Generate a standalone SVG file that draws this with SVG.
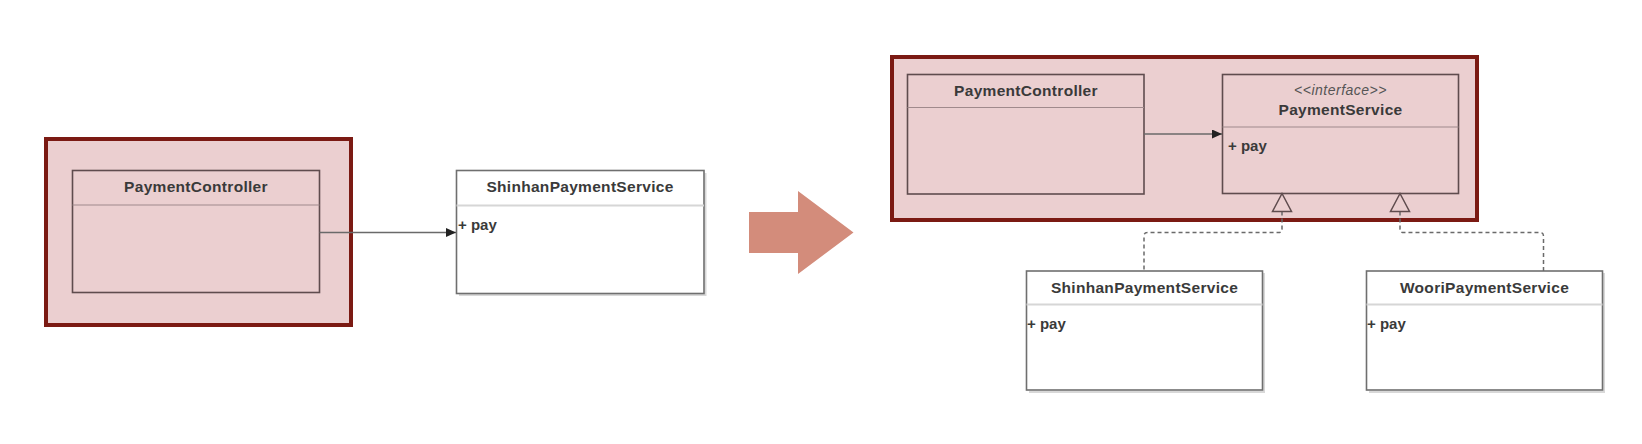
<svg xmlns="http://www.w3.org/2000/svg" width="1642" height="444" viewBox="0 0 1642 444">
<defs>
<style>
.frame{fill:#ebcfd0;stroke:#7b1a13;stroke-width:4}
.pbox{fill:none;stroke:#5f4c4e;stroke-width:1.6}
.pdiv{stroke:#a08a8c;stroke-width:1.2}
.wbox{fill:#fff;stroke:#6f6f6f;stroke-width:1.6}
.wdiv{stroke:#d6d6d6;stroke-width:2}
.shadow{fill:none;stroke:#d8d8d8;stroke-width:2}
.t{font-family:"Liberation Sans",Arial,sans-serif;font-size:15.5px;letter-spacing:0.3px;font-weight:bold;fill:#3a3a3a;text-anchor:middle}
.m{font-family:"Liberation Sans",Arial,sans-serif;font-size:15px;font-weight:bold;fill:#3a3a3a}
.st{font-family:"Liberation Sans",Arial,sans-serif;font-size:14px;letter-spacing:0.5px;font-style:italic;fill:#555;text-anchor:middle}
.conn{fill:none;stroke:#6a6a6a;stroke-width:1.5}
.dash{fill:none;stroke:#6a6a6a;stroke-width:1.5;stroke-dasharray:4 3}
.tri{fill:#ebcfd0;stroke:#5f4c4e;stroke-width:1.5}
</style>
<marker id="ah" markerWidth="10" markerHeight="9" refX="10" refY="4.5" orient="auto" markerUnits="userSpaceOnUse">
<path d="M0,0 L10,4.5 L0,9 Z" fill="#222"/>
</marker>
</defs>
<rect width="1642" height="444" fill="#fff"/>

<!-- Left diagram -->
<g id="left-frame"><rect class="frame" x="46" y="139" width="305" height="186"/></g>
<g id="left-PaymentController">
<rect class="pbox" x="72.5" y="170.5" width="247" height="122"/>
<line class="pdiv" x1="72.5" y1="205" x2="319.5" y2="205"/>
<text class="t" x="196" y="191.5">PaymentController</text>
</g>
<g id="left-ShinhanPaymentService">
<path class="shadow" d="M705.5,173 V295 H459"/>
<rect class="wbox" x="456.5" y="170.5" width="247.5" height="123"/>
<line class="wdiv" x1="456.5" y1="205.5" x2="704" y2="205.5"/>
<text class="t" x="580" y="192">ShinhanPaymentService</text>
<text class="m" x="458" y="230">+ pay</text>
</g>

<!-- Transition arrow -->
<g id="transition-arrow"><polygon points="749,212 798,212 798,191 853.5,232.5 798,274 798,253 749,253" fill="#d38c7b"/></g>

<!-- Right diagram -->
<g id="right-frame"><rect class="frame" x="892" y="57" width="585" height="163"/></g>
<g id="right-PaymentController">
<rect class="pbox" x="907.5" y="74.5" width="236.5" height="119.5"/>
<line class="pdiv" x1="907.5" y1="107.5" x2="1144" y2="107.5"/>
<text class="t" x="1026" y="96">PaymentController</text>
</g>
<g id="right-PaymentService">
<rect class="pbox" x="1222.5" y="74.5" width="236" height="119"/>
<line class="pdiv" x1="1222.5" y1="127" x2="1458.5" y2="127"/>
<text class="st" x="1340.5" y="94.5">&lt;&lt;interface&gt;&gt;</text>
<text class="t" x="1340.5" y="114.5">PaymentService</text>
<text class="m" x="1228" y="151">+ pay</text>
</g>
<g id="right-ShinhanPaymentService">
<path class="shadow" d="M1264,273 V392 H1029"/>
<rect class="wbox" x="1026.5" y="271" width="236" height="119"/>
<line class="wdiv" x1="1026.5" y1="304.5" x2="1262.5" y2="304.5"/>
<text class="t" x="1144.5" y="292.5">ShinhanPaymentService</text>
<text class="m" x="1027" y="328.5">+ pay</text>
</g>
<g id="right-WooriPaymentService">
<path class="shadow" d="M1604,273 V392 H1369"/>
<rect class="wbox" x="1366.5" y="271" width="236" height="119"/>
<line class="wdiv" x1="1366.5" y1="304.5" x2="1602.5" y2="304.5"/>
<text class="t" x="1484.5" y="292.5">WooriPaymentService</text>
<text class="m" x="1367" y="328.5">+ pay</text>
</g>

<!-- Connectors -->
<g id="connectors">
<line class="conn" x1="319.5" y1="232.5" x2="456" y2="232.5" marker-end="url(#ah)"/>
<line class="conn" x1="1144" y1="134" x2="1222" y2="134" stroke="#3a3a3a" marker-end="url(#ah)"/>
<path class="dash" d="M1282,211.5 V229 Q1282,232.5 1278.5,232.5 H1147.5 Q1144,232.5 1144,236 V271"/>
<path class="dash" d="M1400,211.5 V229 Q1400,232.5 1403.5,232.5 H1540 Q1543.5,232.5 1543.5,236 V271"/>
<polygon class="tri" points="1282,193.5 1291.5,211.5 1272.5,211.5"/>
<polygon class="tri" points="1400,193.5 1409.5,211.5 1390.5,211.5"/>
</g>
</svg>
